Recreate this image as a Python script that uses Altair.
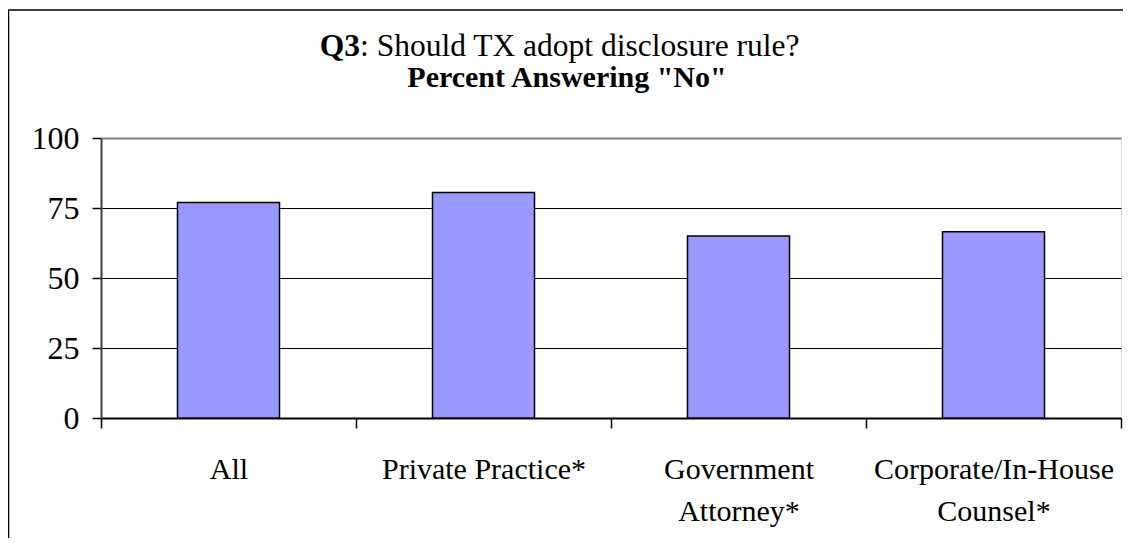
import altair as alt
import pandas as pd

categories = ["All", "Private Practice*", "Government|Attorney*", "Corporate/In-House|Counsel*"]
values = [77, 80.5, 65, 66.5]
y_ticks = [0, 25, 50, 75, 100]
title_bold = "Q3"
title_rest = ": Should TX adopt disclosure rule?"
subtitle = 'Percent Answering "No"'

FONT = "Liberation Serif"

df = pd.DataFrame({"cat": categories, "val": values})

bars = alt.Chart(df).mark_bar(fill="#9999FF", stroke="black", strokeWidth=1.5,
                              width=alt.RelativeBandSize(0.4)).encode(
    x=alt.X("cat:N", sort=categories, title=None,
            scale=alt.Scale(paddingInner=0, paddingOuter=0),
            axis=alt.Axis(labelAngle=0, tickBand="extent", labelExpr="split(datum.label, '|')",
                          labelFont=FONT, labelFontSize=30, labelColor="black", labelLimit=0,
                          labelPadding=26, labelLineHeight=42, labelBaseline="top",
                          tickSize=10, tickColor="black", tickWidth=1.5,
                          domainColor="black", domainWidth=2, grid=False)),
    y=alt.Y("val:Q", title=None, scale=alt.Scale(domain=[0, 100], nice=False),
            axis=alt.Axis(values=y_ticks, labelFont=FONT, labelFontSize=32, labelColor="black",
                          labelPadding=13, tickSize=9, tickColor="black", tickWidth=1.5,
                          domainColor="#404040", domainWidth=2,
                          grid=True,
                          gridColor={"condition": {"test": "datum.value === 100", "value": "#808080"}, "value": "black"},
                          gridWidth={"condition": {"test": "datum.value === 100", "value": 2}, "value": 1.2})),
)

one = pd.DataFrame({"a": [0]})

border = alt.Chart(one).mark_rect(fill=None, stroke="black", strokeWidth=1.5).encode(
    x=alt.value(-92.5), x2=alt.value(1045), y=alt.value(-128), y2=alt.value(440)
)

t1a = alt.Chart(one).mark_text(text=title_bold, font=FONT, fontSize=31.5, fontWeight="bold",
                               align="right", baseline="alphabetic", color="black").encode(
    x=alt.value(259), y=alt.value(-82))
t1b = alt.Chart(one).mark_text(text=title_rest, font=FONT, fontSize=31.5,
                               align="left", baseline="alphabetic", color="black").encode(
    x=alt.value(259), y=alt.value(-82))
t2 = alt.Chart(one).mark_text(text=subtitle, font=FONT, fontSize=30, fontWeight="bold",
                              align="center", baseline="alphabetic", color="black").encode(
    x=alt.value(466), y=alt.value(-51))

chart = alt.layer(border, bars, t1a, t1b, t2).properties(
    width=1020, height=280,
    autosize=alt.AutoSizeParams(type="none"),
    padding={"left": 93, "top": 130, "right": 2, "bottom": 120},
).configure_view(stroke="#808080", strokeWidth=2).configure(background="white")

chart.save("out.html", embed_options={"renderer": "svg", "actions": False})
